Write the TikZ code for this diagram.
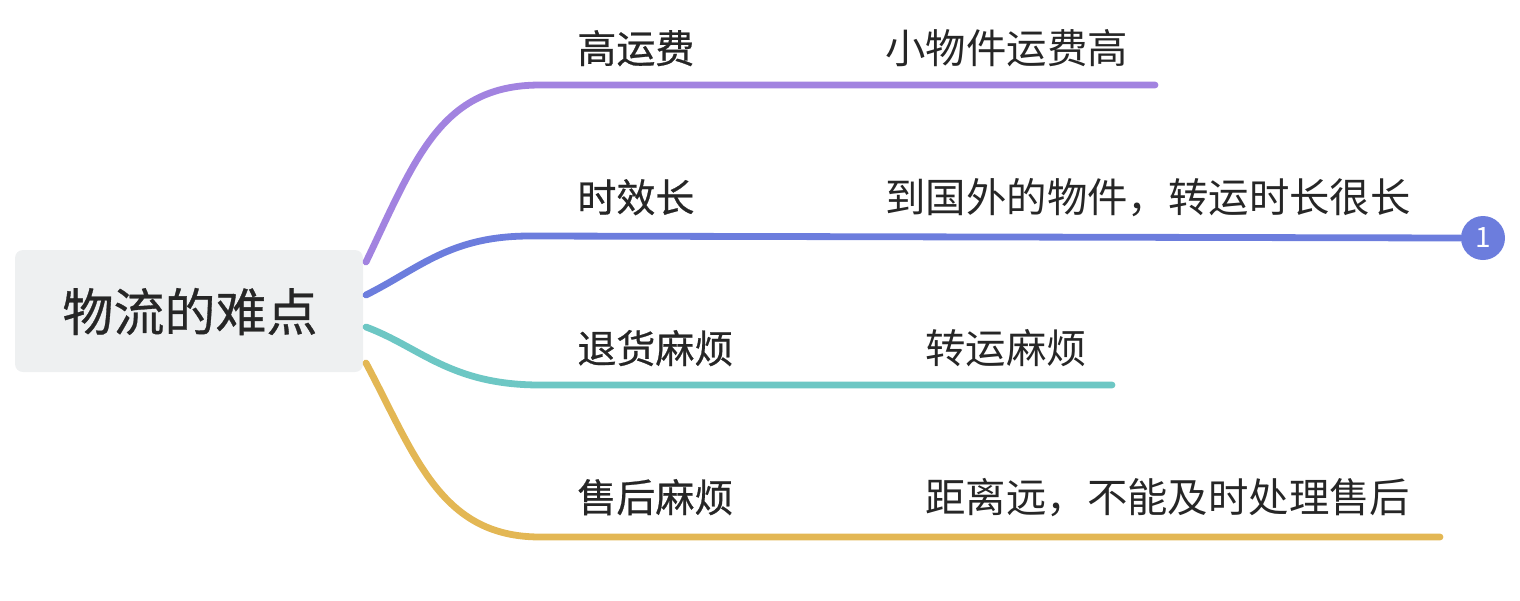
\documentclass[tikz,border=0pt]{standalone}
\usepackage{fontspec}
\newfontfamily\cjk{Noto Sans CJK SC}
\newfontfamily\cjkb[FakeBold=0.6]{Noto Sans CJK SC}
\definecolor{cpurple}{HTML}{A283E0}
\definecolor{cblue}{HTML}{6C7DDD}
\definecolor{cteal}{HTML}{6DC7C4}
\definecolor{cgold}{HTML}{E3B754}
\definecolor{rootfill}{HTML}{EEF0F1}
\definecolor{txt}{HTML}{262626}
\begin{document}
\begin{tikzpicture}[x=0.5pt,y=-0.5pt,
  rootbox/.style={fill=rootfill,rounded corners=4pt,inner sep=0pt,minimum width=174pt,minimum height=61pt},
  branchtxt/.style={anchor=base west,inner sep=0pt,text=txt,font=\cjkb\fontsize{19.5}{23}\selectfont},
  leaftxt/.style={anchor=base west,inner sep=0pt,text=txt,font=\cjk\fontsize{20.2}{24}\selectfont},
  conn/.style={line width=3.4pt,line cap=round},
  badge/.style={circle,fill=cblue,inner sep=0pt,minimum size=22pt,text=white,font=\cjk\fontsize{14}{16}\selectfont}]
\useasboundingbox (0,0) rectangle (1520,600);
\node[rootbox] (root) at (189,311) {};
\node[anchor=base,inner sep=0pt,text=txt,font=\cjkb\fontsize{25.5}{30}\selectfont] (roottext) at (190,331) {物流的难点};
% branch labels
\node[branchtxt] (b1) at (577,63) {高运费};
\node[branchtxt] (b2) at (577,212) {时效长};
\node[branchtxt] (b3) at (577,363) {退货麻烦};
\node[branchtxt] (b4) at (577,512) {售后麻烦};
% leaf labels
\node[leaftxt] (l1) at (885,63) {小物件运费高};
\node[leaftxt] (l2) at (885,212) {到国外的物件，转运时长很长};
\node[leaftxt] (l3) at (925,363) {转运麻烦};
\node[leaftxt] (l4) at (925,512) {距离远，不能及时处理售后};
% coordinates
\coordinate (s1) at (366,262);
\coordinate (s2) at (366,295);
\coordinate (s3) at (366,327);
\coordinate (s4) at (366,363);
\coordinate (e1) at (1155,85);
\coordinate (e3) at (1112,385);
\coordinate (e4) at (1440,537);
\node[badge] (n1) at (1483,238) {1};
% connectors
\draw[conn,cpurple] (s1) .. controls (415,160) and (440,85) .. (540,85) -- (e1);
\draw[conn,cblue] (s2) .. controls (420,268) and (450,236) .. (530,236) -- (n1.west);
\draw[conn,cteal] (s3) .. controls (420,347) and (450,385) .. (540,385) -- (e3);
\draw[conn,cgold] (s4) .. controls (415,455) and (440,537) .. (540,537) -- (e4);
\end{tikzpicture}
\end{document}
